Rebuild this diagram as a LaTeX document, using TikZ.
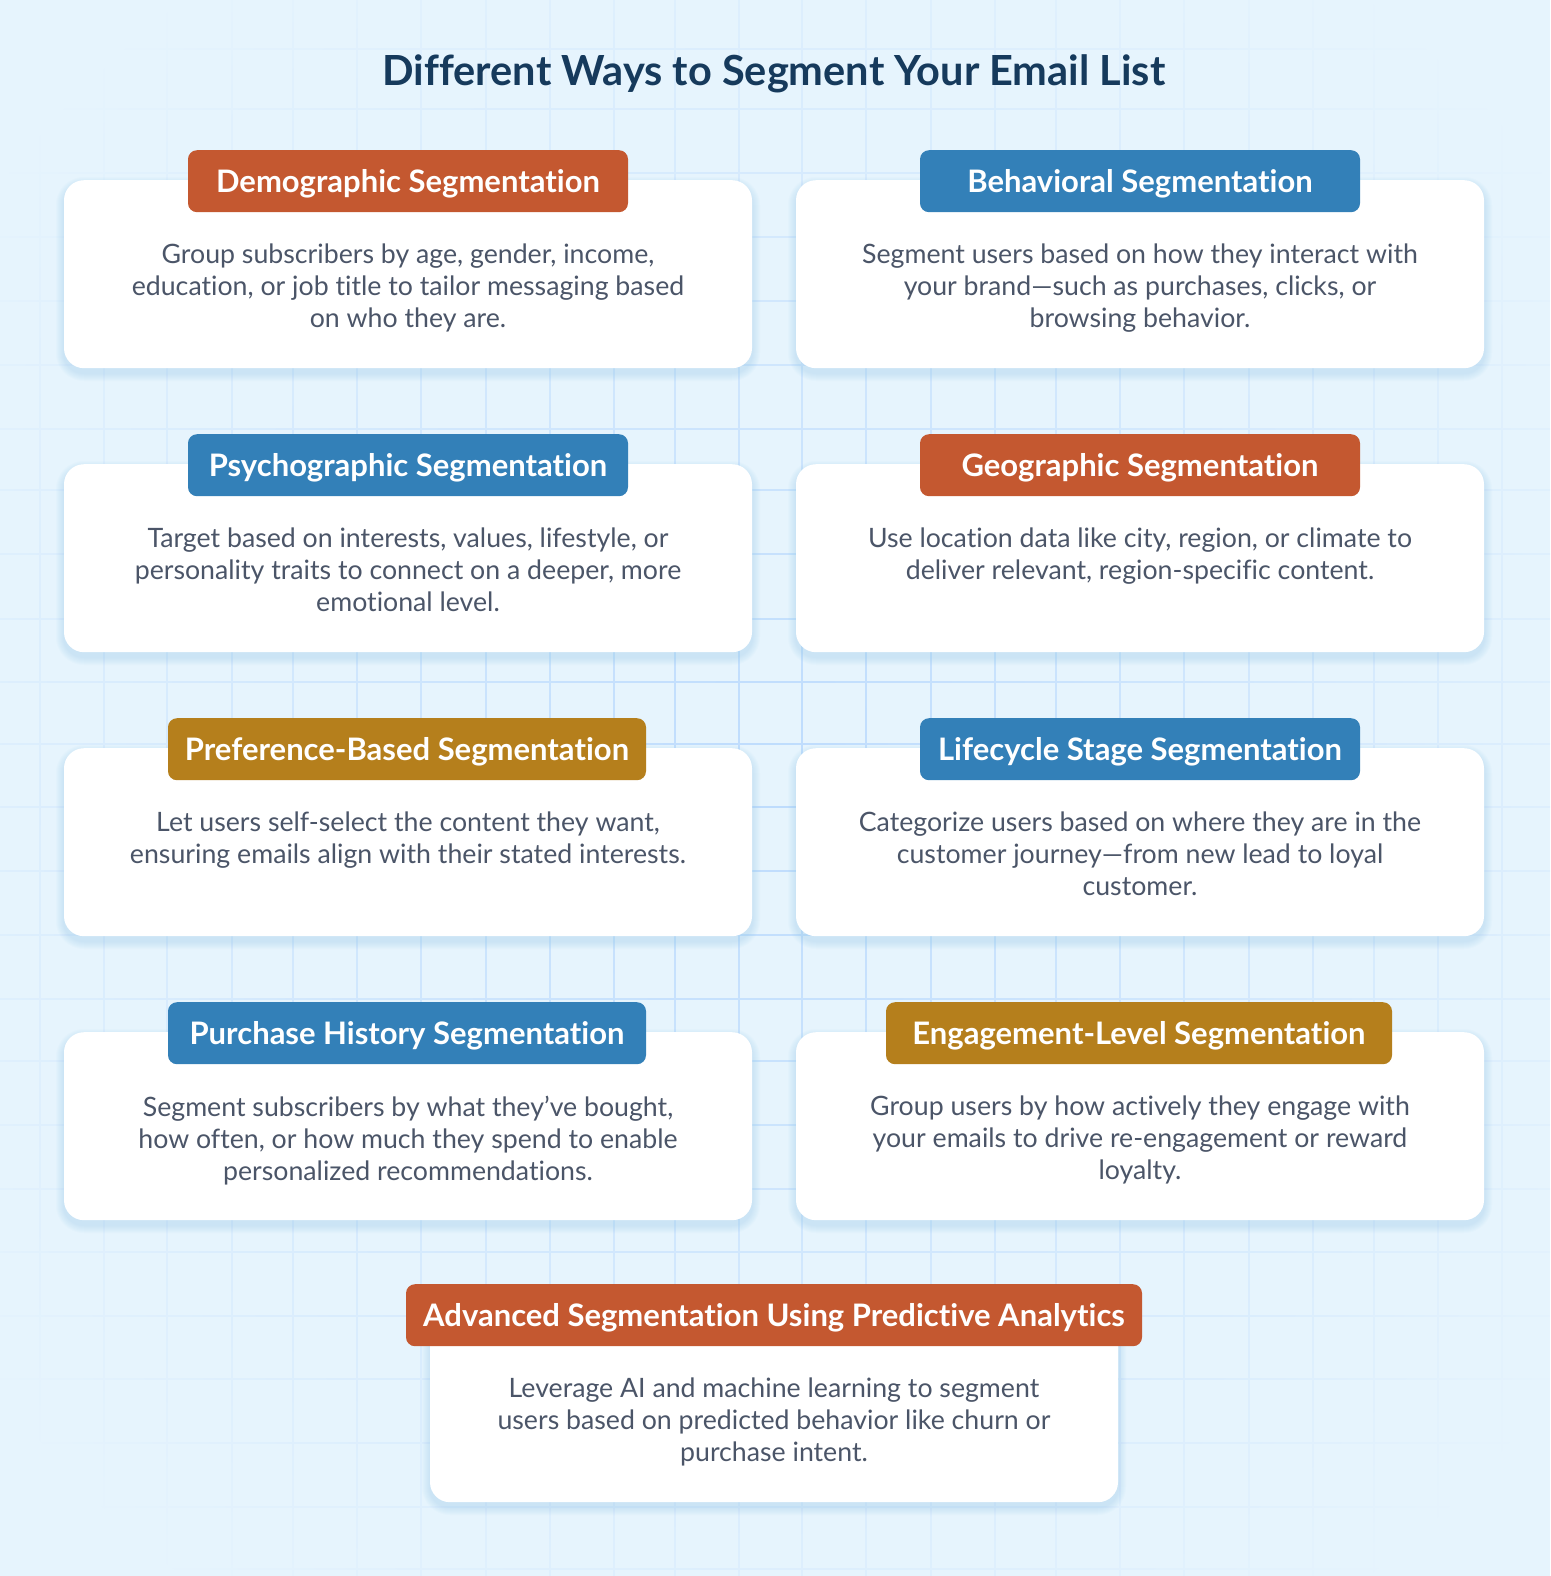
\documentclass[tikz,border=0pt]{standalone}
\usepackage{fontspec}
\setmainfont{Lato}[Ligatures=NoCommon]
\usetikzlibrary{fadings}
\definecolor{pagebg}{HTML}{E6F4FD}
\definecolor{gridc}{HTML}{BEDCFD}
\definecolor{shadowc}{HTML}{90C8F5}
\definecolor{orangep}{HTML}{C45830}
\definecolor{bluep}{HTML}{3380B8}
\definecolor{goldp}{HTML}{B57F1C}
\definecolor{titlec}{HTML}{163A5C}
\definecolor{bodyc}{HTML}{4B5568}
\tikzfading[name=gridfade, inner color=transparent!0, outer color=transparent!100]
\tikzset{
  cardbox/.style={fill=white, rounded corners=20pt, minimum width=688pt, minimum height=188pt, anchor=north, inner sep=0pt},
  pillbox/.style={rounded corners=9pt, minimum height=62pt, anchor=north, inner sep=0pt, text=white, text height=23.5pt, text depth=0pt, font=\fontsize{31}{32}\selectfont\bfseries},
  bodytext/.style={anchor=north, align=center, inner sep=0pt, text=bodyc, font=\fontsize{26.7}{32}\selectfont, execute at begin node=\strut},
  titletext/.style={anchor=base, inner sep=0pt, text=titlec, font=\fontsize{41.5}{48}\selectfont\bfseries},
}
\newcommand{\segcard}[7]{% name, cx, top, pill options, colour, heading, body
  \foreach \i in {1,...,8}{
    \fill[shadowc, opacity=.04, rounded corners={(20+\i)*1pt}] ({#2-344-\i},{#3+5-\i}) rectangle ({#2+344+\i},{#3+193+\i});
  }
  \node[cardbox] (#1) at (#2,#3) {};
  \node[pillbox, fill=#5, #4] (#1pill) at (#2,#3-30) {#6};
  \node[bodytext] (#1text) at (#2,#3+63.6) {#7};
}
\begin{document}
\begin{tikzpicture}[x=1pt,y=-1pt]
\useasboundingbox (0,0) rectangle (1550,1576);
\fill[pagebg] (0,0) rectangle (1550,1576);
\begin{scope}
\clip (0,0) rectangle (1550,1576);
\path[draw=gridc, line width=2pt, path fading=gridfade]
  foreach \x in {40,104,167,232,293,357,421,486,550,614,675,739,803,867,932,996,1057,1121,1185,1250,1314,1375,1439,1503}{(\x,-200) -- (\x,1776)}
  foreach \y in {40,101,165,229,293,357,422,483,547,612,675,738,801,865,929,993,1056,1120,1184,1247,1311,1375,1439,1503,1565}{(-200,\y) -- (1750,\y)};
\end{scope}
\node[titletext] (title) at (774,86) {Different Ways to Segment Your Email List};
\segcard{demo}{408}{180}{minimum width=440pt}{orangep}{Demographic Segmentation}{Group subscribers by age, gender, income,\\education, or job title to tailor messaging based\\on who they are.}
\segcard{behav}{1140}{180}{minimum width=440pt}{bluep}{Behavioral Segmentation}{Segment users based on how they interact with\\your brand—such as purchases, clicks, or\\browsing behavior.}
\segcard{psych}{408}{464}{minimum width=440pt}{bluep}{Psychographic Segmentation}{Target based on interests, values, lifestyle, or\\personality traits to connect on a deeper, more\\emotional level.}
\segcard{geo}{1140}{464}{minimum width=440pt}{orangep}{Geographic Segmentation}{Use location data like city, region, or climate to\\deliver relevant, region-specific content.}
\segcard{pref}{408}{748}{minimum width=478pt, xshift=-1pt}{goldp}{Preference-Based Segmentation}{Let users self-select the content they want,\\ensuring emails align with their stated interests.}
\segcard{life}{1140}{748}{minimum width=440pt}{bluep}{Lifecycle Stage Segmentation}{Categorize users based on where they are in the\\customer journey—from new lead to loyal\\customer.}
\segcard{purch}{408}{1032}{minimum width=478pt, xshift=-1pt}{bluep}{Purchase History Segmentation}{Segment subscribers by what they’ve bought,\\how often, or how much they spend to enable\\personalized recommendations.}
\segcard{engage}{1140}{1032}{minimum width=506pt, xshift=-1pt}{goldp}{Engagement-Level Segmentation}{Group users by how actively they engage with\\your emails to drive re-engagement or reward\\loyalty.}
\segcard{adv}{774}{1314}{minimum width=736pt}{orangep}{Advanced Segmentation Using Predictive Analytics}{Leverage AI and machine learning to segment\\users based on predicted behavior like churn or\\purchase intent.}
\end{tikzpicture}
\end{document}
